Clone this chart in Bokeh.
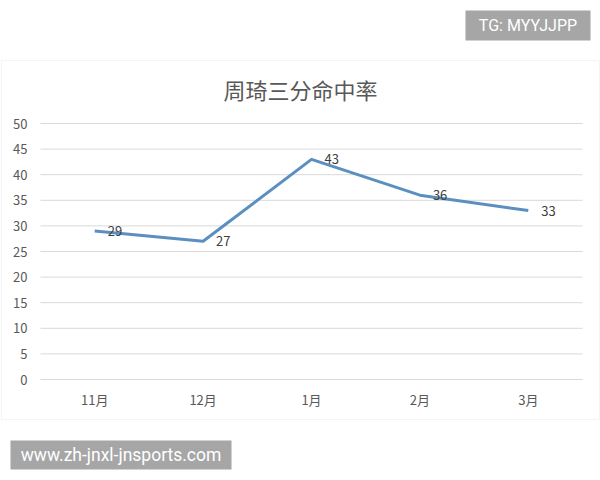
from bokeh.plotting import figure
from bokeh.models import ColumnDataSource, Label, LabelSet, BoxAnnotation, Range1d
from bokeh.core.properties import value
from bokeh.embed import file_html
from bokeh.resources import INLINE

months = ['11月', '12月', '1月', '2月', '3月']
rates = [29, 27, 43, 36, 33]
rate_labels = [str(v) for v in rates]
y_ticks = [0, 5, 10, 15, 20, 25, 30, 35, 40, 45, 50]
y_tick_labels = [str(t) for t in y_ticks]

TITLE = '周琦三分命中率'
TAG_TOP = 'TG: MYYJJPP'
TAG_BOTTOM = 'www.zh-jnxl-jnsports.com'

FONT = 'Noto Sans CJK SC'
TEXT_GREY = '#595959'
LINE_BLUE = '#5b8fc0'
GRID_GREY = '#d9d9d9'
TAG_GREY = '#a6a6a6'

W, H = 600, 480
# page placement of the value axis: category i centred at X0 + i*XSTEP,
# value v drawn at Y0 - v*YSTEP (pixels from the top-left of the page)
X0, XSTEP = 94.2, 108.4
Y0, YSTEP = 379.0, 5.12


def dx(px):
    return (px - X0) / XSTEP


def dy(py):
    return (Y0 - py) / YSTEP


idx = list(range(len(months)))
source = ColumnDataSource(dict(i=idx, month=months, rate=rates, label=rate_labels))
ticks = ColumnDataSource(dict(y=y_ticks, label=y_tick_labels))

p = figure(
    width=W, height=H,
    x_range=Range1d(dx(0), dx(W)), y_range=Range1d(dy(H), dy(0)),
    x_axis_location=None, y_axis_location=None,
    output_backend='svg', toolbar_location=None, tools='',
    background_fill_color='white', border_fill_color='white',
    outline_line_color=None, min_border=0,
)
p.grid.grid_line_color = None

# chart border
p.add_layout(BoxAnnotation(
    left=dx(1), right=dx(599), top=dy(60), bottom=dy(419),
    fill_color=None, line_color=GRID_GREY, line_width=1, level='underlay',
))

# horizontal gridlines across the category bands
p.segment(x0=-0.5, x1=len(months) - 0.5, y0='y', y1='y', source=ticks,
          line_color=GRID_GREY, line_width=1)

# value axis labels
p.text(x=-0.5, y='y', text='label', source=ticks, x_offset=-13,
       text_font=value(FONT), text_font_size='13px', text_color=TEXT_GREY,
       text_align='right', text_baseline='middle')

# category labels
p.text(x='i', y=0, text='month', source=source, y_offset=20,
       text_font=value(FONT), text_font_size='13px', text_color=TEXT_GREY,
       text_align='center', text_baseline='middle')

p.line('i', 'rate', source=source, line_color=LINE_BLUE, line_width=3,
       line_join='round')

p.add_layout(LabelSet(
    x='i', y='rate', text='label', source=source,
    x_offset=13, text_font=value(FONT), text_font_size='13px',
    text_color='#404040', text_baseline='middle', text_align='left',
))

p.add_layout(Label(
    x=dx(300), y=dy(88), text=TITLE,
    text_font=FONT, text_font_size='22px', text_color=TEXT_GREY,
    text_align='center', text_baseline='middle',
))

# grey tag boxes
for left, right, top, bottom, text, size in [
    (465, 590, 10, 40, TAG_TOP, '16px'),
    (10, 231, 440, 469, TAG_BOTTOM, '17.5px'),
]:
    p.add_layout(BoxAnnotation(
        left=dx(left), right=dx(right), top=dy(top), bottom=dy(bottom),
        fill_color=TAG_GREY, fill_alpha=1, line_color=None,
    ))
    p.add_layout(Label(
        x=dx((left + right) / 2), y=dy((top + bottom) / 2), text=text,
        text_font='Roboto', text_font_size=size, text_color='white',
        text_align='center', text_baseline='middle',
    ))

open('out.html', 'w').write(file_html(p, INLINE))
